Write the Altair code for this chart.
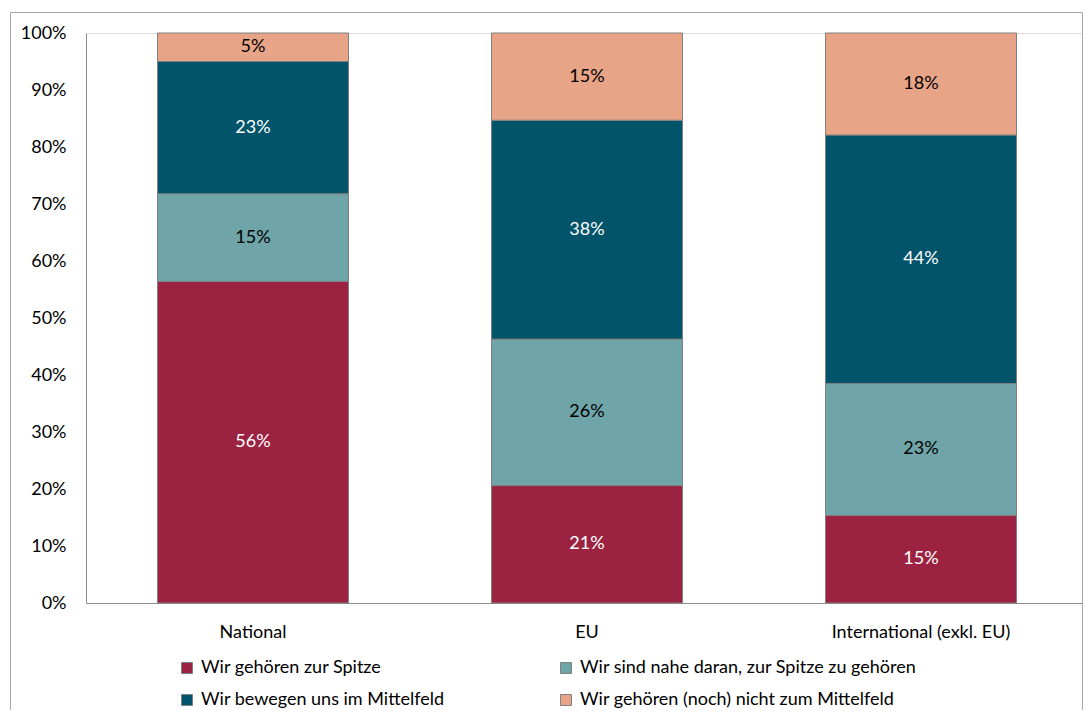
import altair as alt
import pandas as pd

categories = ["National", "EU", "International (exkl. EU)"]
series = [
    "Wir gehören zur Spitze",
    "Wir sind nahe daran, zur Spitze zu gehören",
    "Wir bewegen uns im Mittelfeld",
    "Wir gehören (noch) nicht zum Mittelfeld",
]
spitze = [56.4, 20.6, 15.4]
nahe = [15.4, 25.7, 23.1]
mittelfeld = [23.2, 38.4, 43.6]
nicht = [5.0, 15.3, 17.9]
colors = ["#9C2242", "#6FA5A8", "#02546A", "#E8A487"]

vals = [spitze, nahe, mittelfeld, nicht]
rows = []
for i, s in enumerate(series):
    for j, c in enumerate(categories):
        rows.append({"cat": c, "series": s, "ord": i, "value": vals[i][j]})
df = pd.DataFrame(rows)

FONT = "Lato"
FS = 18

x_enc = alt.X(
    "cat:N",
    sort=categories,
    scale=alt.Scale(paddingInner=0, paddingOuter=0, range=[0, 1002]),
    axis=alt.Axis(
        title=None, labelAngle=0, ticks=False, domainColor="#8c8c8c",
        labelFontSize=FS, labelPadding=20, labelColor="black", labelFont=FONT,
    ),
)

bars = alt.Chart(df).mark_bar(size=191, stroke="#808080", strokeWidth=1).encode(
    x=x_enc,
    y=alt.Y(
        "value:Q",
        stack="zero",
        scale=alt.Scale(domain=[0, 100], nice=False),
        axis=alt.Axis(
            title=None, values=list(range(0, 101, 10)),
            labelExpr="datum.value + '%'", grid=False, ticks=False,
            domainColor="#8c8c8c", labelFontSize=FS, labelPadding=20,
            labelColor="black", labelFont=FONT,
        ),
    ),
    color=alt.Color(
        "series:N",
        sort=series,
        scale=alt.Scale(domain=series, range=colors),
        legend=alt.Legend(
            title=None, orient="none", legendX=92, legendY=626, columns=2,
            direction="horizontal", symbolType="square", symbolSize=121,
            symbolStrokeColor="#808080", symbolStrokeWidth=1,
            labelFontSize=FS, labelFont=FONT, labelColor="black",
            columnPadding=112, rowPadding=14, padding=0, labelLimit=500,
            symbolOffset=0, labelOffset=5,
        ),
    ),
    order=alt.Order("ord:Q", sort="ascending"),
)

labels = alt.Chart(df).transform_stack(
    stack="value", groupby=["cat"], as_=["y0", "y1"],
    sort=[alt.SortField("ord", order="ascending")],
).transform_calculate(
    mid="(datum.y0 + datum.y1) / 2",
    lbl="format(datum.value, '.0f') + '%'",
).mark_text(fontSize=FS, font=FONT, baseline="middle").encode(
    x=alt.X("cat:N", sort=categories),
    y=alt.Y("mid:Q"),
    text="lbl:N",
    color=alt.condition(
        "datum.ord == 0 || datum.ord == 2", alt.value("white"), alt.value("black")
    ),
)

frame = alt.Chart(alt.Data(values=[{}])).mark_rect(
    fillOpacity=0, stroke="#a6a6a6", strokeWidth=1
).encode(
    x=alt.value(-75.5), x2=alt.value(996.5), y=alt.value(-20.5), y2=alt.value(720)
)

chart = alt.layer(frame, bars, labels).properties(
    width=997,
    height=570,
    autosize=alt.AutoSizeParams(type="none"),
    padding={"left": 78, "top": 25, "right": 0, "bottom": 107},
).configure_view(strokeWidth=0).configure(font=FONT)

chart.save("out.html", embed_options={"renderer": "svg", "actions": False})
